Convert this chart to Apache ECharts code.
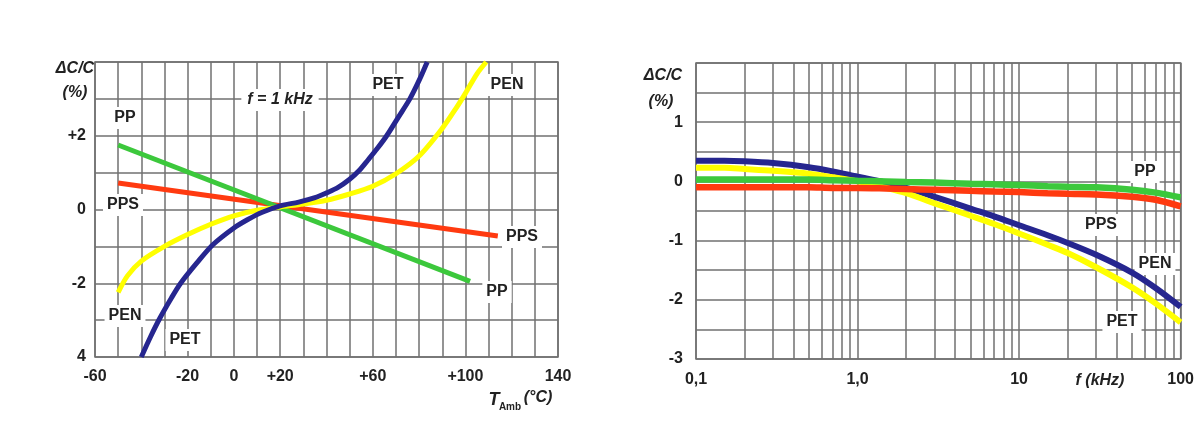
<!DOCTYPE html>
<html><head><meta charset="utf-8">
<script src="https://cdn.jsdelivr.net/npm/echarts@6/dist/echarts.min.js"></script>
<style>html,body{margin:0;padding:0;background:#fff}#c{width:1197px;height:436px}</style>
</head><body><div id="c"></div>
<script>
// ---------- Left chart: ΔC/C (%) versus ambient temperature (°C), f = 1 kHz ----------
const tempPP  = [[-50, 1.75], [102, -1.95]];
const tempPPS = [[-50, 0.72], [114, -0.72]];
const tempPET = [[-40,-4.0],[-36,-3.45],[-32,-2.95],[-27,-2.4],[-23,-2.0],[-16,-1.45],[-9,-0.95],[0,-0.5],[6,-0.27],[12,-0.08],[20,0.1],[28,0.2],[35,0.32],[40,0.45],[45,0.6],[50,0.82],[54,1.05],[58,1.35],[62,1.66],[66,2.0],[71,2.5],[76,3.0],[80,3.5],[83.5,4.0]];
const tempPEN = [[-50,-2.25],[-46,-1.8],[-40,-1.4],[-30,-1.0],[-20,-0.68],[-10,-0.4],[0,-0.17],[10,-0.02],[20,0.07],[30,0.15],[40,0.25],[50,0.42],[60,0.63],[70,0.97],[80,1.45],[90,2.2],[96,2.75],[100,3.15],[105,3.68],[109,4.0]];
const tempTickLabels = {'-60':'-60','-20':'-20','0':'0','20':'+20','60':'+60','100':'+100','140':'140'};
const tempYLabels = {'2':'+2','0':'0','-2':'-2','-4':'4'};

// ---------- Right chart: ΔC/C (%) versus frequency (kHz) ----------
const freqKHz = [0.1,0.15,0.2,0.3,0.5,0.7,1,1.5,2,3,5,7,10,15,20,30,50,70,100];
const freqPET = [0.35,0.35,0.34,0.31,0.24,0.17,0.08,-0.02,-0.11,-0.26,-0.46,-0.59,-0.74,-0.91,-1.04,-1.24,-1.54,-1.80,-2.12];
const freqPEN = [0.23,0.23,0.21,0.18,0.13,0.07,0.00,-0.11,-0.20,-0.37,-0.58,-0.72,-0.88,-1.07,-1.21,-1.45,-1.79,-2.06,-2.38];
const freqPP  = [0.03,0.03,0.03,0.03,0.03,0.02,0.01,0.00,-0.01,-0.02,-0.04,-0.05,-0.06,-0.08,-0.09,-0.10,-0.14,-0.19,-0.27];
const freqPPS = [-0.10,-0.10,-0.10,-0.10,-0.10,-0.11,-0.11,-0.12,-0.13,-0.14,-0.16,-0.17,-0.18,-0.20,-0.21,-0.22,-0.26,-0.31,-0.42];
const freqTickLabels = ['0,1','1,0','10','100'];
const freqYLabels = {'1':'1','0':'0','-1':'-1','-2':'-2','-3':'-3'};

const freqGrid = [];
[0.1, 1, 10].forEach(d => { for (let k = 1; k <= 9; k++) freqGrid.push(+(d * k).toPrecision(3)); });
freqGrid.push(100);

const FONT = "'Liberation Sans',Arial,sans-serif";
const GRID_C = '#707070';
const TXT_C = '#222';
const C_BLUE = '#26268f', C_YEL = '#ffff00', C_GRN = '#3cc83c', C_RED = '#ff3a10';

const chart = echarts.init(document.getElementById('c'), null, {renderer: 'canvas'});
const zip = (xs, ys) => xs.map((x, i) => [x, ys[i]]);
const lbl = {fontFamily: FONT, fontWeight: 'bold', fontSize: 16, color: TXT_C};

function tag(text, x, y, opts) {
  return {
    type: 'text', x: x, y: y, z: 1,
    style: Object.assign({
      text: text, textAlign: 'center', textVerticalAlign: 'middle',
      font: 'bold 16px ' + FONT, fill: TXT_C,
      backgroundColor: '#fff', padding: [3, 4]
    }, opts || {})
  };
}
const plain = f => ({font: f, backgroundColor: null, padding: 0});

function line(name, xi, data, color, width, smooth) {
  return {name: name, type: 'line', xAxisIndex: xi, yAxisIndex: xi, data: data,
    smooth: smooth ? 0.3 : false, showSymbol: false,
    lineStyle: {color: color, width: width}, z: 3};
}

const option = {
  backgroundColor: '#fff',
  animation: false,
  grid: [
    {left: 95, top: 62, width: 463, height: 295, show: true, borderColor: GRID_C, borderWidth: 1.5, backgroundColor: 'transparent'},
    {left: 696, top: 63, width: 486, height: 296, show: true, borderColor: GRID_C, borderWidth: 1.5, backgroundColor: 'transparent'}
  ],
  xAxis: [
    {gridIndex: 0, type: 'value', min: -60, max: 140, interval: 10,
     axisLine: {show: false}, axisTick: {show: false},
     splitLine: {show: true, lineStyle: {color: GRID_C, width: 1.5}},
     axisLabel: Object.assign({margin: 12, formatter: v => tempTickLabels[String(v)] || ''}, lbl)},
    {gridIndex: 1, type: 'log', logBase: 10, min: 0.1, max: 100,
     axisLine: {show: false},
     axisTick: {show: false, customValues: freqGrid},
     splitLine: {show: true, lineStyle: {color: GRID_C, width: 1.5}},
     axisLabel: Object.assign({margin: 13, customValues: [0.1, 1, 10, 100],
       formatter: v => freqTickLabels[Math.round(Math.log10(v)) + 1]}, lbl)}
  ],
  yAxis: [
    {gridIndex: 0, type: 'value', min: -4, max: 4, interval: 1,
     axisLine: {show: false}, axisTick: {show: false},
     splitLine: {show: true, lineStyle: {color: GRID_C, width: 1.5}},
     axisLabel: Object.assign({margin: 9, formatter: v => tempYLabels[String(v)] || ''}, lbl)},
    {gridIndex: 1, type: 'value', min: -3, max: 2, interval: 0.5,
     axisLine: {show: false}, axisTick: {show: false},
     splitLine: {show: true, lineStyle: {color: GRID_C, width: 1.5}},
     axisLabel: Object.assign({margin: 13, formatter: v => freqYLabels[String(v)] || ''}, lbl)}
  ],
  series: [
    line('PPS', 0, tempPPS, C_RED, 5, false),
    line('PP', 0, tempPP, C_GRN, 5, false),
    line('PEN', 0, tempPEN, C_YEL, 5, true),
    line('PET', 0, tempPET, C_BLUE, 5, true),
    line('PET', 1, zip(freqKHz, freqPET), C_BLUE, 6, true),
    line('PEN', 1, zip(freqKHz, freqPEN), C_YEL, 6, true),
    line('PPS', 1, zip(freqKHz, freqPPS), C_RED, 6.5, true),
    line('PP', 1, zip(freqKHz, freqPP), C_GRN, 6.5, true)
  ],
  graphic: [
    // left chart texts
    tag('ΔC/C', 75, 69, plain('italic bold 16px ' + FONT)),
    tag('(%)', 75, 93, plain('italic bold 16px ' + FONT)),
    tag('f = 1 kHz', 280, 100, {font: 'italic bold 16px ' + FONT, padding: [3, 6]}),
    tag('PET', 388, 85),
    tag('PEN', 507, 85),
    tag('PP', 125, 118),
    tag('PPS', 123, 205),
    tag('PPS', 522, 237),
    tag('PP', 497, 292),
    tag('PEN', 125, 316),
    tag('PET', 185, 340),
    tag('T', 494, 400, plain('italic bold 18px ' + FONT)),
    tag('Amb', 510, 407, plain('bold 10px ' + FONT)),
    tag('(°C)', 538, 398, plain('italic bold 16px ' + FONT)),
    // right chart texts
    tag('ΔC/C', 663, 76, plain('italic bold 16px ' + FONT)),
    tag('(%)', 661, 102, plain('italic bold 16px ' + FONT)),
    tag('PP', 1145, 172),
    tag('PPS', 1101, 225),
    tag('PEN', 1155, 264),
    tag('PET', 1122, 322),
    tag('f (kHz)', 1100, 381, plain('italic bold 16px ' + FONT))
  ]
};
chart.setOption(option);
</script>
</body></html>
